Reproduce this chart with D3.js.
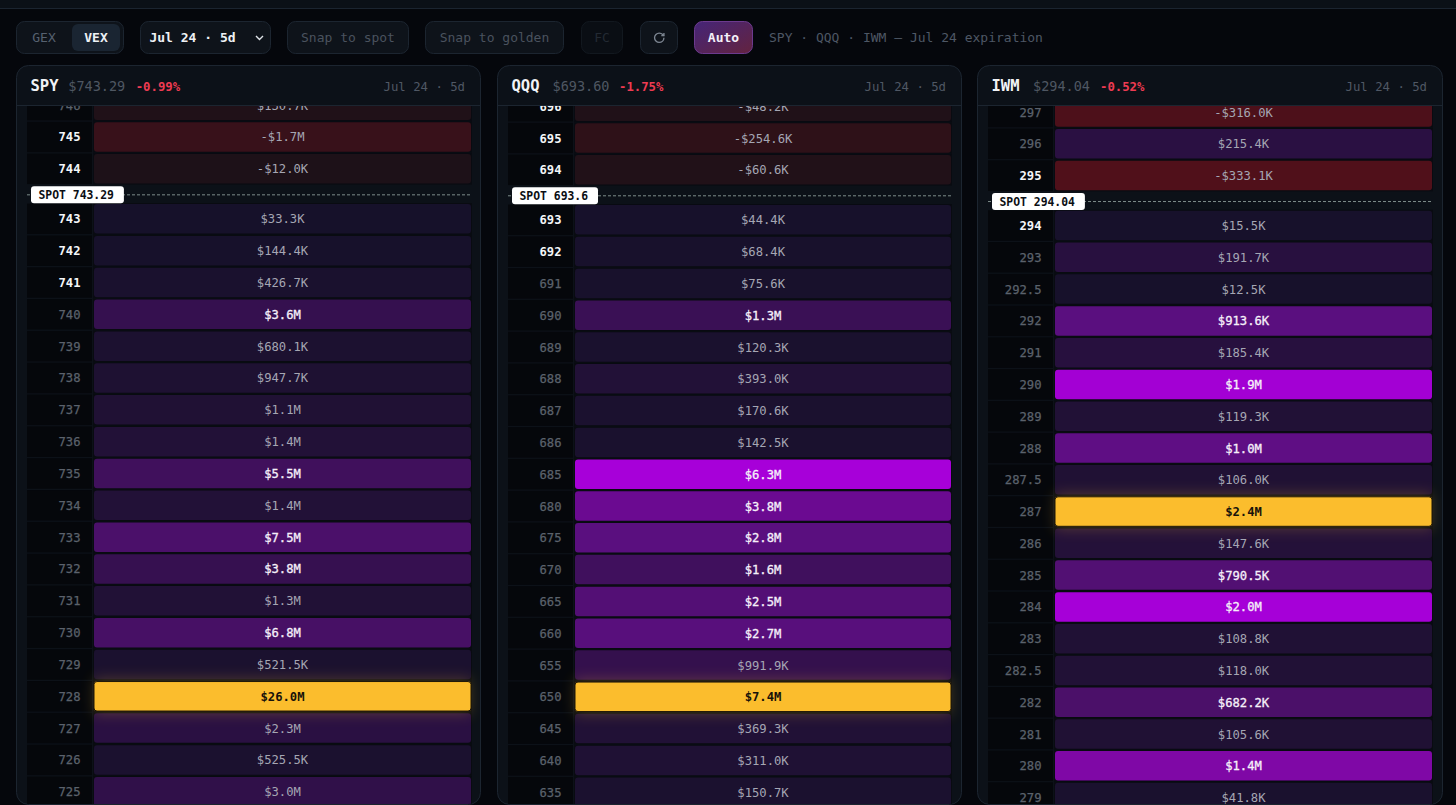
<!DOCTYPE html>
<html>
<head>
<meta charset="utf-8">
<script src="https://cdn.jsdelivr.net/npm/d3@7"></script>
<style>
  html, body { margin: 0; padding: 0; background: #05070c; overflow: hidden; }
  svg { display: block; }
  text { font-family: "DejaVu Sans Mono", "Liberation Mono", monospace; }
</style>
</head>
<body>
<div id="canva"></div>
<script>
// strikes and vex values
const spyStrikes = [746, 745, 744, 743, 742, 741, 740, 739, 738, 737, 736, 735, 734, 733, 732, 731, 730, 729, 728, 727, 726, 725];
const spyValues = [130700, -1700000, -12000, 33300, 144400, 426700, 3600000, 680100, 947700, 1100000, 1400000, 5500000, 1400000, 7500000, 3800000, 1300000, 6800000, 521500, 26000000, 2300000, 525500, 3000000];

const qqqStrikes = [696, 695, 694, 693, 692, 691, 690, 689, 688, 687, 686, 685, 680, 675, 670, 665, 660, 655, 650, 645, 640, 635];
const qqqValues = [-48200, -254600, -60600, 44400, 68400, 75600, 1300000, 120300, 393000, 170600, 142500, 6300000, 3800000, 2800000, 1600000, 2500000, 2700000, 991900, 7400000, 369300, 311000, 150700];

const iwmStrikes = [297, 296, 295, 294, 293, 292.5, 292, 291, 290, 289, 288, 287.5, 287, 286, 285, 284, 283, 282.5, 282, 281, 280, 279];
const iwmValues = [-316000, 215400, -333100, 15500, 191700, 12500, 913600, 185400, 1900000, 119300, 1000000, 106000, 2400000, 147600, 790500, 2000000, 108800, 118000, 682200, 105600, 1400000, 41800];

const tickers = ["SPY", "QQQ", "IWM"];
const spots = [743.29, 693.6, 294.04];
const priceLabels = ["$743.29", "$693.60", "$294.04"];
const changeLabels = ["-0.99%", "-1.75%", "-0.52%"];
const spotLabels = ["SPOT 743.29", "SPOT 693.6", "SPOT 294.04"];
const expiryLabel = "Jul 24 · 5d";
const redTintStrikes = [746];

const width = 1456;
const height = 805;

// layout of each panel: left edge, width, y of first row, row pitch, header text offsets
const panels = [
  { x: 16, w: 464, inset: 9, strikes: spyStrikes, values: spyValues, top: 90.4, step: 31.83, priceDx: 52.3, changeDx: 119.7 },
  { x: 497, w: 464, inset: 10, strikes: qqqStrikes, values: qqqValues, top: 91.45, step: 31.8, priceDx: 55.5, changeDx: 122 },
  { x: 977, w: 465, inset: 10, strikes: iwmStrikes, values: iwmValues, top: 97.25, step: 31.78, priceDx: 56, changeDx: 123 }
];

const panelTop = 65;
const headerH = 41;
const panelBottom = 804;
const spotGap = 18.2;

const svg = d3.select("#canva").append("svg").attr("width", width).attr("height", height);
const defs = svg.append("defs");
defs.append("filter").attr("id", "glow")
  .attr("x", "-5%").attr("y", "-80%").attr("width", "110%").attr("height", "260%")
  .append("feGaussianBlur").attr("stdDeviation", 7);

const autoGrad = defs.append("linearGradient").attr("id", "autoGrad")
  .attr("x1", 0).attr("y1", 0).attr("x2", 1).attr("y2", 1);
autoGrad.append("stop").attr("offset", "0%").attr("stop-color", "#452578");
autoGrad.append("stop").attr("offset", "100%").attr("stop-color", "#63233f");

svg.append("rect").attr("width", width).attr("height", height).attr("fill", "#05070c");
svg.append("rect").attr("width", width).attr("height", 8).attr("fill", "#0b1017");
svg.append("line").attr("x1", 0).attr("x2", width).attr("y1", 8.5).attr("y2", 8.5).attr("stroke", "#1b2430");

// toolbar
function button(x, w, label, opts) {
  opts = opts || {};
  svg.append("rect")
    .attr("x", x + 0.5).attr("y", 21.5).attr("width", w - 1).attr("height", 32).attr("rx", 8)
    .attr("fill", opts.fill || "#0e131a").attr("stroke", opts.stroke || "#1c2530");
  if (label) {
    svg.append("text")
      .attr("x", x + w / 2 + (opts.dx || 0)).attr("y", 42)
      .attr("text-anchor", "middle")
      .attr("font-size", 13)
      .attr("font-weight", opts.weight || 400)
      .attr("fill", opts.color || "#4a525e")
      .text(label);
  }
}
button(16, 108);
svg.append("rect").attr("x", 72).attr("y", 24).attr("width", 48).attr("height", 27).attr("rx", 6).attr("fill", "#1a2532");
svg.append("text").attr("x", 44).attr("y", 42).attr("text-anchor", "middle").attr("font-size", 13).attr("fill", "#566170").text("GEX");
svg.append("text").attr("x", 96).attr("y", 42).attr("text-anchor", "middle").attr("font-size", 13).attr("font-weight", 700).attr("fill", "#eef1f5").text("VEX");

button(140, 131, expiryLabel, { color: "#eef1f5", weight: 700, dx: -13 });
svg.append("path").attr("d", "M256 36 L259.5 39.5 L263 36").attr("fill", "none").attr("stroke", "#dfe3e8").attr("stroke-width", 1.4);

button(287, 122, "Snap to spot");
button(425, 139, "Snap to golden");
button(581, 42, "FC", { stroke: "#12181f", fill: "#0a0e14", color: "#232a33" });
button(640, 38);
// refresh icon
const refresh = svg.append("g").attr("transform", "translate(653,31.5) scale(0.52)")
  .attr("fill", "none").attr("stroke", "#7d8692").attr("stroke-width", 2.6);
refresh.append("path").attr("d", "M21 12a9 9 0 1 1-9-9c2.52 0 4.93 1 6.74 2.74L21 8");
refresh.append("path").attr("d", "M21 3v5h-5");

button(694, 59, "Auto", { fill: "url(#autoGrad)", stroke: "#6c3a8e", color: "#f4eff8", weight: 700 });
svg.append("text").attr("x", 769).attr("y", 42).attr("font-size", 13).attr("fill", "#4e5765")
  .text("SPY · QQQ · IWM — Jul 24 expiration");

// bar fill as a share of the largest strike in that panel
const purple = d3.scaleLinear()
  .domain([0, 0.04, 0.09, 0.14, 0.28, 0.38, 0.51, 0.58, 0.8, 1])
  .range(["#16112a", "#1f1133", "#2a1042", "#35104f", "#4a1068", "#5a0f7f", "#6a0a90", "#7e08a5", "#a400d6", "#b000e0"])
  .clamp(true);
const red = d3.scaleLinear()
  .domain([0, 0.034, 0.065, 0.14])
  .range(["#1d1118", "#2e1118", "#38111a", "#50101a"])
  .clamp(true);

function money(v) {
  const a = Math.abs(v);
  const s = a >= 1e6 ? "$" + (a / 1e6).toFixed(1) + "M" : "$" + (a / 1e3).toFixed(1) + "K";
  return (v < 0 ? "-" : "") + s;
}

panels.forEach((p, pi) => {
  const spot = spots[pi];
  const maxVal = d3.max(p.values, v => Math.abs(v));
  const rows = p.strikes.map((k, i) => ({ k: k, v: p.values[i], i: i }));

  const g = svg.append("g");

  g.append("rect")
    .attr("x", p.x + 0.5).attr("y", panelTop + 0.5)
    .attr("width", p.w).attr("height", panelBottom - panelTop).attr("rx", 12)
    .attr("fill", "#0c1118").attr("stroke", "#1c2530");

  const clipId = "clip" + pi;
  defs.append("clipPath").attr("id", clipId).append("path")
    .attr("d", `M${p.x + 1} ${panelTop + headerH} H${p.x + p.w} V${panelBottom - 12} Q${p.x + p.w} ${panelBottom} ${p.x + p.w - 12} ${panelBottom} H${p.x + 13} Q${p.x + 1} ${panelBottom} ${p.x + 1} ${panelBottom - 12} Z`);

  const body = g.append("g").attr("clip-path", `url(#${clipId})`);

  const strikeLeft = p.x + 11;
  const strikeRight = p.x + 76;
  const barLeft = p.x + 78;
  const barRight = p.x + p.w - p.inset;

  const yBase = d3.scaleLinear().domain([0, rows.length - 1]).range([p.top, p.top + p.step * (rows.length - 1)]);
  const firstBelow = rows.findIndex(d => d.k < spot);
  const y = i => yBase(i) + (i >= firstBelow ? spotGap : 0);

  const barH = 29.5;
  const strong = d => d.v > 0 && d.v / maxVal > 0.136;
  const nearSpot = d => Math.abs(d.k - spot) / spot < 0.0035;

  body.selectAll("rect.strike").data(rows).enter().append("rect")
    .attr("class", "strike")
    .attr("x", strikeLeft).attr("y", d => y(d.i) - 0.5)
    .attr("width", strikeRight - strikeLeft).attr("height", barH + 1)
    .attr("fill", "#05070b");

  // dark trough behind the bars
  body.selectAll("rect.track").data(rows).enter().append("rect")
    .attr("class", "track")
    .attr("x", barLeft - 1).attr("y", d => y(d.i) - 1)
    .attr("width", barRight - barLeft + 2).attr("height", barH + 2)
    .attr("fill", "#090b11");

  const fill = d => {
    if (d.v === maxVal) return "#fbbd2d";
    const share = Math.abs(d.v) / maxVal;
    return d.v < 0 || redTintStrikes.includes(d.k) ? red(share) : purple(share);
  };

  body.selectAll("rect.bar").data(rows).enter().append("rect")
    .attr("class", "bar")
    .attr("x", barLeft).attr("y", d => y(d.i))
    .attr("width", barRight - barLeft).attr("height", barH).attr("rx", 3)
    .attr("fill", fill);

  // warm glow from the largest strike into its neighbours
  const top = rows.find(d => d.v === maxVal);
  body.append("rect")
    .attr("x", barLeft).attr("y", y(top.i) - 3)
    .attr("width", barRight - barLeft).attr("height", barH + 6)
    .attr("fill", "#fbbd2d").attr("opacity", 0.22)
    .attr("filter", "url(#glow)");
  body.append("rect")
    .attr("x", barLeft).attr("y", y(top.i))
    .attr("width", barRight - barLeft).attr("height", barH).attr("rx", 3)
    .attr("fill", "#fbbd2d").attr("stroke", "#1d1608");

  body.selectAll("text.strike").data(rows).enter().append("text")
    .attr("class", "strike")
    .attr("x", strikeRight - 11.5).attr("y", d => y(d.i) + barH / 2 + 4.5)
    .attr("text-anchor", "end")
    .attr("font-size", 12.2)
    .attr("font-weight", d => nearSpot(d) ? 700 : 400)
    .attr("fill", d => nearSpot(d) ? "#f4f6f8" : "#5b626c")
    .attr("stroke", d => nearSpot(d) ? "none" : "#5b626c")
    .attr("stroke-width", 0.25)
    .text(d => d.k);

  body.selectAll("text.val").data(rows).enter().append("text")
    .attr("class", "val")
    .attr("x", (barLeft + barRight) / 2).attr("y", d => y(d.i) + barH / 2 + 4.5)
    .attr("text-anchor", "middle")
    .attr("font-size", 12.2)
    .attr("font-weight", d => d.v === maxVal ? 700 : 400)
    .attr("fill", d => d.v === maxVal ? "#17120a" : strong(d) ? "#f6f0fa" : "#a5a6b3")
    .attr("stroke", d => strong(d) && d.v !== maxVal ? "#f6f0fa" : "none")
    .attr("stroke-width", 0.3)
    .text(d => money(d.v));

  // spot marker sits in the gap
  const spotY = y(firstBelow) - 9.25;
  g.append("line")
    .attr("x1", strikeLeft).attr("x2", barRight)
    .attr("y1", spotY).attr("y2", spotY)
    .attr("stroke", "#7e8d8b").attr("stroke-dasharray", "3,2");
  const label = spotLabels[pi];
  const badgeW = label.length * 6.9 + 17;
  g.append("rect")
    .attr("x", p.x + 15).attr("y", spotY - 8.5)
    .attr("width", badgeW).attr("height", 17).attr("rx", 3)
    .attr("fill", "#fff");
  g.append("text")
    .attr("x", p.x + 22.5).attr("y", spotY + 4)
    .attr("font-size", 11.4).attr("font-weight", 700).attr("fill", "#0b0e13")
    .text(label);

  // panel header
  g.append("line")
    .attr("x1", p.x + 1).attr("x2", p.x + p.w)
    .attr("y1", panelTop + headerH - 0.5).attr("y2", panelTop + headerH - 0.5)
    .attr("stroke", "#1c2530");
  g.append("text").attr("x", p.x + 14.5).attr("y", 90.5)
    .attr("font-size", 15.5).attr("font-weight", 700).attr("fill", "#f1f3f6").text(tickers[pi]);
  g.append("text").attr("x", p.x + p.priceDx).attr("y", 90.5)
    .attr("font-size", 13.5).attr("fill", "#4f5762").text(priceLabels[pi]);
  g.append("text").attr("x", p.x + p.changeDx).attr("y", 90.5)
    .attr("font-size", 12.3).attr("font-weight", 700).attr("fill", "#ee3b52").text(changeLabels[pi]);
  g.append("text").attr("x", p.x + p.w - 15).attr("y", 90.5)
    .attr("text-anchor", "end")
    .attr("font-size", 12.3).attr("fill", "#505864").text(expiryLabel);
});
</script>
</body>
</html>
